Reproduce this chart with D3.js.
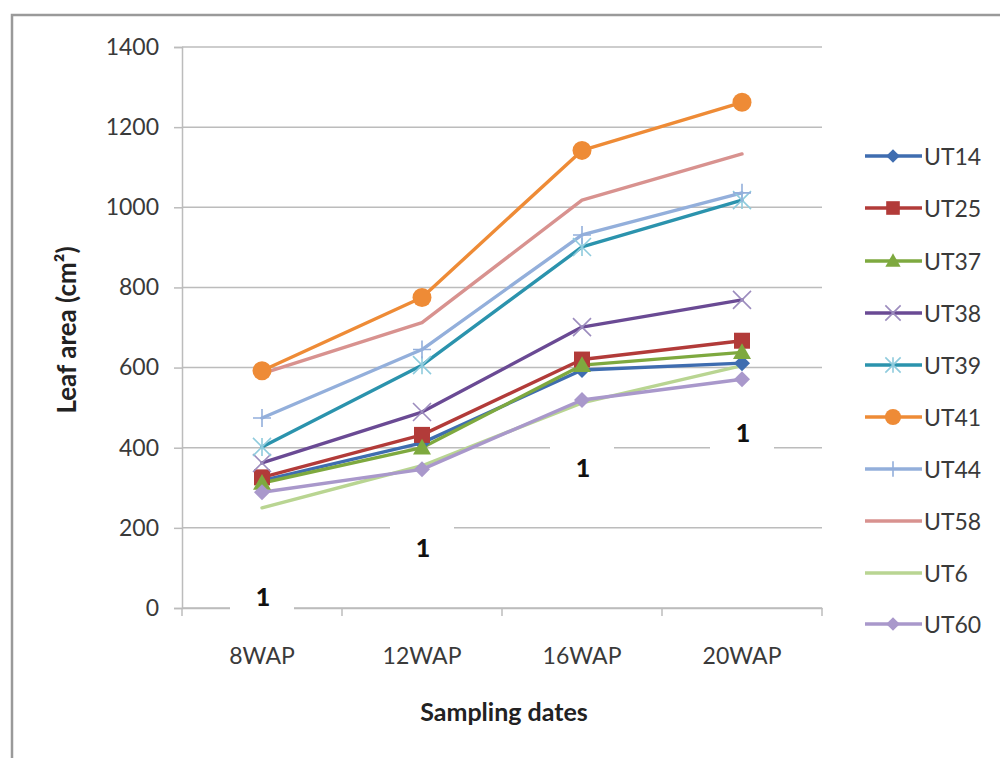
<!DOCTYPE html>
<html>
<head>
<meta charset="utf-8">
<script src="https://cdn.jsdelivr.net/npm/d3@7/dist/d3.min.js"></script>
<style>
  html, body { margin: 0; padding: 0; background: #fff; }
  text { font-family: Lato, "Open Sans", sans-serif; }
</style>
</head>
<body>
<svg id="chart" width="1000" height="758"></svg>
<script>
// ---------- data ----------
const categories = ["8WAP", "12WAP", "16WAP", "20WAP"];
const seriesNames = ["UT14", "UT25", "UT37", "UT38", "UT39", "UT41", "UT44", "UT58", "UT6", "UT60"];
const UT14 = [318, 412, 594, 611];
const UT25 = [326, 432, 620, 667];
const UT37 = [312, 400, 606, 638];
const UT38 = [362, 489, 701, 769];
const UT39 = [402, 606, 901, 1018];
const UT41 = [592, 775, 1142, 1262];
const UT44 = [474, 645, 931, 1036];
const UT58 = [585, 712, 1018, 1133];
const UT6  = [250, 355, 512, 605];
const UT60 = [289, 346, 519, 571];
const seriesValues = [UT14, UT25, UT37, UT38, UT39, UT41, UT44, UT58, UT6, UT60];
const yTicks = [0, 200, 400, 600, 800, 1000, 1200, 1400];
// stray data labels "1" (value positions in data units)
const strayLabelText = ["1", "1", "1", "1"];
const strayLabelValues = [28, 150, 350, 437];

// ---------- styles ----------
const colors = ["#3F6DB0", "#B23B39", "#7EA93F", "#6A4A94", "#2B93AD", "#EE8B36", "#93AFDB", "#D8928F", "#B9D592", "#A998CB"];
const markerColors = ["#3F6DB0", "#B23B39", "#7EA93F", "#9C8CBE", "#8FCBDD", "#EE8B36", "#93AFDB", null, null, "#A998CB"];
const markers = ["diamond", "square", "triangle", "x", "asterisk", "circle", "plus", "none", "none", "diamond"];

const svg = d3.select("#chart");

// chart border
svg.append("path")
  .attr("d", "M12,760 L12,15 L1002,15")
  .attr("fill", "none").attr("stroke", "#9a9a9a").attr("stroke-width", 2.5);

const x = d3.scaleBand().domain(categories).range([182, 822]);
const y = d3.scaleLinear().domain([0, 1400]).range([608, 47]);

// gridlines
svg.append("g").selectAll("line").data(yTicks).join("line")
  .attr("x1", 182).attr("x2", 822)
  .attr("y1", d => y(d)).attr("y2", d => y(d))
  .attr("stroke", "#bcbcbc").attr("stroke-width", 1.5);

// y axis
const yAxis = svg.append("g").attr("transform", "translate(182,0)")
  .call(d3.axisLeft(y).tickValues(yTicks).tickFormat(d3.format("d")).tickSize(8).tickPadding(15));
yAxis.select(".domain").attr("stroke", "#bcbcbc").attr("stroke-width", 1.5);
yAxis.selectAll(".tick line").attr("stroke", "#bcbcbc").attr("stroke-width", 1.5);
yAxis.selectAll("text").attr("font-size", 23).attr("fill", "#3a3a3a")
  .style("font-family", "Lato, sans-serif");

// x axis
const xAxis = svg.append("g").attr("transform", "translate(0,608)")
  .call(d3.axisBottom(x).tickSize(0).tickPadding(40));
xAxis.select(".domain").attr("stroke", "#bcbcbc").attr("stroke-width", 1.5);
xAxis.selectAll("text").attr("font-size", 23).attr("fill", "#3a3a3a")
  .style("font-family", "Lato, sans-serif");
// category boundary ticks
const bounds = categories.map(c => x(c)).concat([x.range()[1]]);
svg.append("g").selectAll("line").data(bounds).join("line")
  .attr("x1", d => d).attr("x2", d => d)
  .attr("y1", 608).attr("y2", 616)
  .attr("stroke", "#bcbcbc").attr("stroke-width", 1.5);

// axis titles
svg.append("text")
  .attr("transform", "translate(76,330) rotate(-90)")
  .attr("text-anchor", "middle").attr("font-size", 26).attr("font-weight", "bold")
  .attr("fill", "#222")
  .text("Leaf area (cm²)");
svg.append("text")
  .attr("x", 504).attr("y", 721)
  .attr("text-anchor", "middle").attr("font-size", 25).attr("font-weight", "bold")
  .attr("fill", "#222")
  .text("Sampling dates");

// stray "1" labels with white boxes
const cx = c => x(c) + x.bandwidth() / 2;
const lab = svg.append("g");
categories.forEach((c, i) => {
  const yy = y(strayLabelValues[i]);
  lab.append("rect").attr("x", cx(c) - 32).attr("y", yy - 22).attr("width", 64).attr("height", 40)
    .attr("fill", "#fff");
  lab.append("text").attr("x", cx(c) + 1).attr("y", yy + 9)
    .attr("text-anchor", "middle").attr("font-size", 25).attr("font-weight", "900").attr("fill", "#111")
    .text(strayLabelText[i]);
});

// marker drawing
function drawMarker(g, type, px, py, col, s) {
  s = s || 1;
  if (type === "diamond") {
    const r = 8 * s;
    g.append("path").attr("d", `M${px},${py - r}L${px + r},${py}L${px},${py + r}L${px - r},${py}Z`).attr("fill", col);
  } else if (type === "square") {
    const r = 8 * s;
    g.append("rect").attr("x", px - r).attr("y", py - r).attr("width", 2 * r).attr("height", 2 * r).attr("fill", col);
  } else if (type === "triangle") {
    const r = 9 * s;
    g.append("path").attr("d", `M${px},${py - r}L${px + r},${py + r * 0.75}L${px - r},${py + r * 0.75}Z`).attr("fill", col);
  } else if (type === "circle") {
    g.append("circle").attr("cx", px).attr("cy", py).attr("r", 9.5 * s).attr("fill", col);
  } else if (type === "x") {
    const r = 9 * s;
    g.append("path").attr("d", `M${px - r},${py - r}L${px + r},${py + r}M${px - r},${py + r}L${px + r},${py - r}`)
      .attr("stroke", col).attr("stroke-width", 1.6).attr("fill", "none");
  } else if (type === "asterisk") {
    const r = 9 * s;
    g.append("path").attr("d", `M${px - r},${py - r}L${px + r},${py + r}M${px - r},${py + r}L${px + r},${py - r}M${px},${py - r}L${px},${py + r}`)
      .attr("stroke", col).attr("stroke-width", 1.6).attr("fill", "none");
  } else if (type === "plus") {
    const r = 9 * s;
    g.append("path").attr("d", `M${px - r},${py}L${px + r},${py}M${px},${py - r}L${px},${py + r}`)
      .attr("stroke", col).attr("stroke-width", 1.6).attr("fill", "none");
  }
}

// lines
const line = d3.line().x((d, i) => cx(categories[i])).y(d => y(d));
const plot = svg.append("g");
seriesValues.forEach((vals, si) => {
  plot.append("path").datum(vals).attr("d", line)
    .attr("fill", "none").attr("stroke", colors[si]).attr("stroke-width", 3.4)
    .attr("stroke-linejoin", "round").attr("stroke-linecap", "round");
});
seriesValues.forEach((vals, si) => {
  if (markers[si] === "none") return;
  vals.forEach((v, i) => drawMarker(plot, markers[si], cx(categories[i]), y(v), markerColors[si]));
});

// legend
const legendY = [156, 208, 261, 313, 365, 417, 469, 521, 573, 624];
const leg = svg.append("g");
seriesNames.forEach((n, si) => {
  const ly = legendY[si];
  leg.append("line").attr("x1", 865).attr("x2", 922).attr("y1", ly).attr("y2", ly)
    .attr("stroke", colors[si]).attr("stroke-width", 3.4);
  if (markers[si] !== "none") drawMarker(leg, markers[si], 893, ly, markerColors[si], 0.85);
  leg.append("text").attr("x", 924).attr("y", ly + 8.5).attr("font-size", 23).attr("fill", "#3a3a3a").text(n);
});
</script>
</body>
</html>
